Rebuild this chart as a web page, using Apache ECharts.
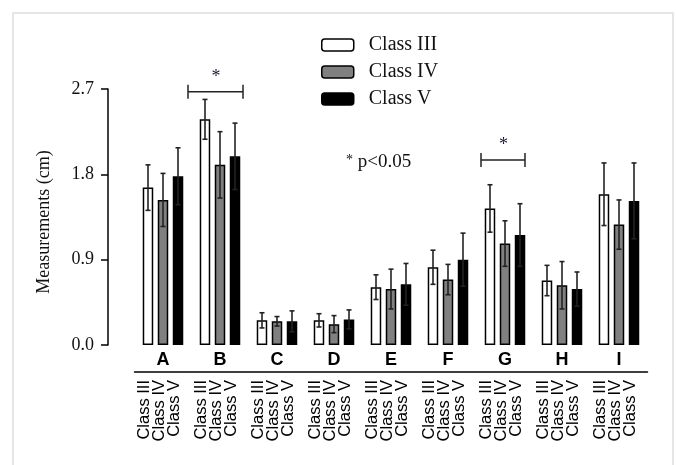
<!DOCTYPE html>
<html>
<head>
<meta charset="utf-8">
<script src="https://cdn.jsdelivr.net/npm/echarts@6/dist/echarts.min.js"></script>
<style>
    html, body { margin: 0; padding: 0; background: #fff; }
    #chart { width: 676px; height: 465px; }
</style>
</head>
<body>
<div id="chart"></div>
<script>
// groups on the x axis
var groups = ['A', 'B', 'C', 'D', 'E', 'F', 'G', 'H', 'I']
var classNames = ['Class III', 'Class IV', 'Class V']

// mean values (cm)
var class3 = [1.66, 2.38, 0.26, 0.26, 0.61, 0.82, 1.44, 0.68, 1.59]
var class4 = [1.53, 1.90, 0.25, 0.22, 0.59, 0.69, 1.07, 0.63, 1.27]
var class5 = [1.78, 1.99, 0.25, 0.27, 0.64, 0.90, 1.16, 0.59, 1.52]

// error (sd)
var err3 = [0.24, 0.21, 0.08, 0.07, 0.13, 0.18, 0.25, 0.16, 0.33]
var err4 = [0.28, 0.35, 0.05, 0.09, 0.21, 0.16, 0.24, 0.25, 0.26]
var err5 = [0.30, 0.35, 0.11, 0.10, 0.22, 0.28, 0.33, 0.18, 0.40]

// significance brackets: [group index, height]
var sigMarks = [[1, 2.67], [6, 1.95]]

var chart = echarts.init(document.getElementById('chart'))

var BAR_W = 10.5
var STEP = 15 // distance between bar centres inside a group
var serif = 'Liberation Serif, Times New Roman, serif'
var sans = 'Liberation Sans, Arial, sans-serif'

function barSeries(name, values, fill) {
    return {
        name: name,
        type: 'bar',
        data: values,
        barWidth: BAR_W,
        barGap: '43%',
        itemStyle: { color: fill, borderColor: '#000', borderWidth: 1.5 },
        // class name written under every bar, rotated
        label: {
            show: true,
            formatter: name,
            position: ['50%', '100%'],
            offset: [-35, -4],
            rotate: 90,
            align: 'right',
            verticalAlign: 'middle',
            fontFamily: sans,
            fontSize: 16.5,
            color: '#000',
        },
        animation: false,
    }
}

function errSeries(values, errs, shift) {
    return {
        type: 'custom',
        data: values.map(function (v, i) { return [i, v, errs[i]] }),
        renderItem: function (params, api) {
            var i = api.value(0)
            var lo = api.coord([i, api.value(1) - api.value(2)])
            var hi = api.coord([i, api.value(1) + api.value(2)])
            var x = lo[0] + shift
            var st = { stroke: '#222', lineWidth: 1.6 }
            return {
                type: 'group',
                children: [
                    { type: 'line', shape: { x1: x, y1: lo[1], x2: x, y2: hi[1] }, style: st },
                    { type: 'line', shape: { x1: x - 2.5, y1: hi[1], x2: x + 2.5, y2: hi[1] }, style: st },
                    { type: 'line', shape: { x1: x - 2.5, y1: lo[1], x2: x + 2.5, y2: lo[1] }, style: st },
                ],
            }
        },
        z: 5,
        animation: false,
    }
}

var option = {
    backgroundColor: '#fff',
    grid: { left: 134.5, right: 28.5, top: 89, bottom: 120 },
    legend: {
        data: classNames,
        orient: 'vertical',
        left: 316,
        top: 30,
        itemWidth: 32,
        itemHeight: 12,
        itemGap: 7,
        itemStyle: { borderColor: '#000', borderWidth: 1.5 },
        textStyle: { fontFamily: serif, fontSize: 20, color: '#111', lineHeight: 20, padding: [0, 0, 0, 10] },
        selectedMode: false,
    },
    xAxis: {
        type: 'category',
        data: groups,
        offset: 27,
        axisLine: { show: true, onZero: false, lineStyle: { color: '#000', width: 1.5 } },
        axisTick: { show: false },
        axisLabel: {
            inside: true,
            margin: 3,
            fontFamily: sans,
            fontWeight: 'bold',
            fontSize: 18,
            color: '#000',
        },
    },
    yAxis: {
        type: 'value',
        min: 0,
        max: 2.7,
        interval: 0.9,
        offset: 26.5,
        name: 'Measurements (cm)',
        nameLocation: 'middle',
        nameGap: 55,
        nameTextStyle: { fontFamily: serif, fontSize: 18, color: '#111', padding: [0, 10, 0, 0] },
        axisLine: { show: true, lineStyle: { color: '#000', width: 1.5 } },
        axisTick: { show: true, length: 7, lineStyle: { color: '#000', width: 1.5 } },
        axisLabel: {
            margin: 14,
            fontFamily: serif,
            fontSize: 18,
            color: '#111',
            formatter: function (v) { return v.toFixed(1) },
        },
        splitLine: { show: false },
    },
    series: [
        barSeries(classNames[0], class3, '#fff'),
        barSeries(classNames[1], class4, '#808080'),
        barSeries(classNames[2], class5, '#000'),
        errSeries(class3, err3, -STEP),
        errSeries(class4, err4, 0),
        errSeries(class5, err5, STEP),
        {
            type: 'custom',
            data: sigMarks,
            renderItem: function (params, api) {
                var p = api.coord([api.value(0), api.value(1)])
                var half = params.dataIndex === 0 ? 27.5 : 22
                var cx = p[0] - (params.dataIndex === 0 ? 4.5 : 2)
                var st = { stroke: '#222', lineWidth: 1.5 }
                return {
                    type: 'group',
                    children: [
                        { type: 'line', shape: { x1: cx - half, y1: p[1], x2: cx + half, y2: p[1] }, style: st },
                        { type: 'line', shape: { x1: cx - half, y1: p[1] - 7, x2: cx - half, y2: p[1] + 7 }, style: st },
                        { type: 'line', shape: { x1: cx + half, y1: p[1] - 7, x2: cx + half, y2: p[1] + 7 }, style: st },
                        {
                            type: 'text',
                            style: {
                                x: cx + 0.5, y: p[1] - 15, text: '*',
                                font: '18px ' + serif, fill: '#1a1a40',
                                align: 'center', verticalAlign: 'middle',
                            },
                        },
                    ],
                }
            },
            z: 6,
            animation: false,
        },
    ],
    graphic: [
        {
            type: 'rect',
            shape: { x: 13, y: 13, width: 660, height: 470 },
            style: { fill: 'none', stroke: '#e6e6e6', lineWidth: 2 },
            silent: true,
        },
        {
            type: 'text',
            left: 346,
            top: 153,
            style: {
                text: '{a|*} p<0.05',
                font: '19px ' + serif,
                fill: '#111',
                rich: { a: { fontFamily: serif, fontSize: 14, verticalAlign: 'top', padding: [0, 0, 4, 0] } },
            },
        },
    ],
}

chart.setOption(option)
</script>
</body>
</html>
